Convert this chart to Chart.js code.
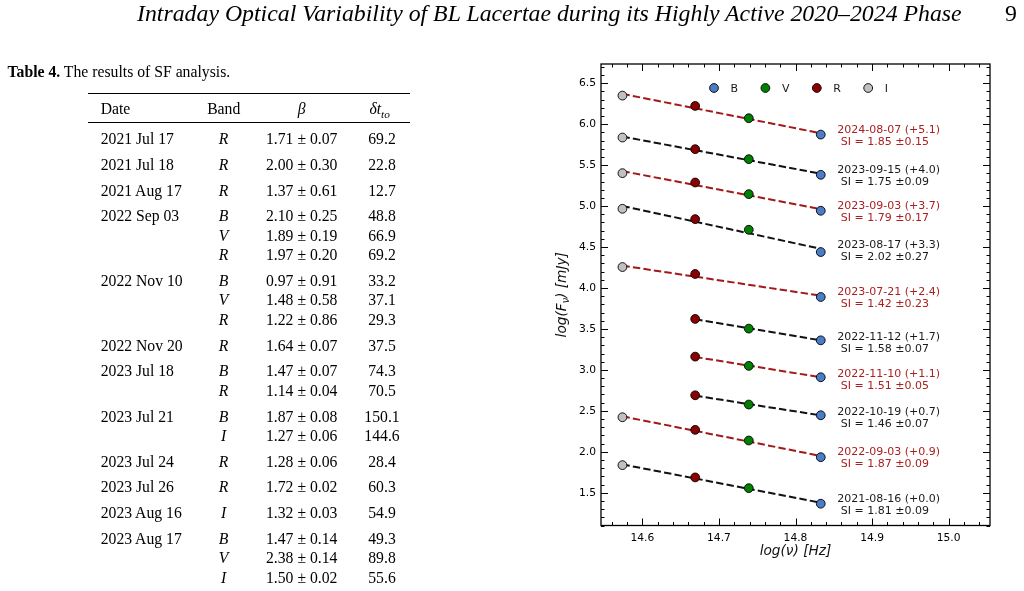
<!DOCTYPE html>
<html><head><meta charset="utf-8">
<script src="https://cdn.jsdelivr.net/npm/chart.js@4.4.1/dist/chart.umd.min.js"></script>
<style>
html,body{margin:0;padding:0;background:#fff;width:1024px;height:591px;overflow:hidden;}
#c{position:absolute;left:0;top:0;}
#page{position:absolute;left:0;top:0;width:1024px;height:591px;pointer-events:none;}
.t{position:absolute;white-space:nowrap;font-family:"Liberation Serif","Times New Roman",serif;color:#000;}
.rule{position:absolute;background:#000;}
</style></head><body>
<canvas id="c" width="1024" height="591"></canvas>
<div id="page"></div>
<script>
// ---------- Data ----------
const pageTitle = 'Intraday Optical Variability of BL Lacertae during its Highly Active 2020–2024 Phase';
const pageNumber = '9';
const captionBold = 'Table 4.';
const captionText = ' The results of SF analysis.';
const tableHeaders = ['Date', 'Band', 'β', 'δt'];
const tableDates = ['2021 Jul 17','2021 Jul 18','2021 Aug 17','2022 Sep 03','','','2022 Nov 10','','','2022 Nov 20','2023 Jul 18','','2023 Jul 21','','2023 Jul 24','2023 Jul 26','2023 Aug 16','2023 Aug 17','',''];
const tableBands = ['R','R','R','B','V','R','B','V','R','R','B','R','B','I','R','R','I','B','V','I'];
const tableBeta = ['1.71 ± 0.07','2.00 ± 0.30','1.37 ± 0.61','2.10 ± 0.25','1.89 ± 0.19','1.97 ± 0.20','0.97 ± 0.91','1.48 ± 0.58','1.22 ± 0.86','1.64 ± 0.07','1.47 ± 0.07','1.14 ± 0.04','1.87 ± 0.08','1.27 ± 0.06','1.28 ± 0.06','1.72 ± 0.02','1.32 ± 0.03','1.47 ± 0.14','2.38 ± 0.14','1.50 ± 0.02'];
const tableDt = ['69.2','22.8','12.7','48.8','66.9','69.2','33.2','37.1','29.3','37.5','74.3','70.5','150.1','144.6','28.4','60.3','54.9','49.3','89.8','55.6'];

const bandNames = ['B', 'V', 'R', 'I'];
const logNu = [14.833, 14.739, 14.669, 14.574];
const epochLabels = ['2024-08-07 (+5.1)','2023-09-15 (+4.0)','2023-09-03 (+3.7)','2023-08-17 (+3.3)','2023-07-21 (+2.4)','2022-11-12 (+1.7)','2022-11-10 (+1.1)','2022-10-19 (+0.7)','2022-09-03 (+0.9)','2021-08-16 (+0.0)'];
const siLabels = ['SI = 1.85 ±0.15','SI = 1.75 ±0.09','SI = 1.79 ±0.17','SI = 2.02 ±0.27','SI = 1.42 ±0.23','SI = 1.58 ±0.07','SI = 1.51 ±0.05','SI = 1.46 ±0.07','SI = 1.87 ±0.09','SI = 1.81 ±0.09'];
const fluxB = [5.873, 5.382, 4.943, 4.439, 3.890, 3.361, 2.910, 2.446, 1.934, 1.366];
const fluxV = [6.073, 5.573, 5.146, 4.711, null, 3.504, 3.049, 2.577, 2.138, 1.556];
const fluxR = [6.223, 5.695, 5.288, 4.841, 4.171, 3.622, 3.162, 2.690, 2.268, 1.687];
const fluxI = [6.349, 5.837, 5.402, 4.967, 4.256, null, null, null, 2.422, 1.837];
const fitStart = [6.370, 5.849, 5.427, 5.002, 4.273, 3.619, 3.158, 2.685, 2.433, 1.846];
const fitEnd = [5.890, 5.396, 4.963, 4.478, 3.906, 3.360, 2.910, 2.445, 1.949, 1.378];
const xTicks = [14.6, 14.7, 14.8, 14.9, 15.0];
const yTicks = [1.5, 2.0, 2.5, 3.0, 3.5, 4.0, 4.5, 5.0, 5.5, 6.0, 6.5];

// ---------- Styles ----------
const bandColors = ['#4a7cc8', '#008000', '#8b0000', '#c0c0c0'];
const redLine = '#a31818', blackLine = '#111111';
const redText = '#ab2020', blackText = '#1a1a1a';

// ---------- HTML text (title + table) ----------
const page = document.getElementById('page');
const mctx = document.createElement('canvas').getContext('2d');
function measure(text, font) { mctx.font = font; return mctx.measureText(text).width; }
function addText(html, x, baseline, fs, opts) {
  opts = opts || {};
  const d = document.createElement('div');
  d.className = 't';
  d.style.fontSize = fs + 'px';
  d.style.lineHeight = fs + 'px';
  d.style.top = (baseline - fs / 2 - 0.3375 * fs) + 'px';
  d.style.left = x + 'px';
  if (opts.align === 'center') d.style.transform = 'translateX(-50%)';
  if (opts.italic) d.style.fontStyle = 'italic';
  if (opts.bold) d.style.fontWeight = 'bold';
  d.innerHTML = html;
  page.appendChild(d);
  return d;
}
function addRule(x1, x2, y, h) {
  const r = document.createElement('div');
  r.className = 'rule';
  r.style.left = x1 + 'px'; r.style.width = (x2 - x1) + 'px';
  r.style.top = (y - h / 2) + 'px'; r.style.height = h + 'px';
  page.appendChild(r);
}
// title
const titleFs = 20 * 826 / measure(pageTitle, 'italic 20px "Liberation Serif"');
addText(pageTitle, 137, 22, titleFs, {italic: true});
addText(pageNumber, 1005, 22, titleFs);
// caption
const capW = measure(captionBold, 'bold 20px "Liberation Serif"') + measure(captionText, '20px "Liberation Serif"');
const capFs = 20 * 223 / capW;
addText('<b>' + captionBold + '</b>' + captionText.replace(/ /g, ' '), 7.5, 77, capFs);
// table
const tfs = 15.7;
addRule(88, 410, 93.5, 1.2);
addRule(88, 410, 122.7, 0.8);
const hb = 109.3 + 0.338 * tfs;
addText(tableHeaders[0], 100.7, hb, tfs);
addText(tableHeaders[1], 223.7, hb, tfs, {align: 'center'});
addText(tableHeaders[2], 301.7, hb, tfs, {align: 'center', italic: true});
addText('<i>' + tableHeaders[3] + '</i><span style="font-size:0.72em;position:relative;top:0.28em;font-style:italic">to</span>', 379.7, hb, tfs, {align: 'center'});
let yc = 139;
for (let i = 0; i < tableDates.length; i++) {
  if (i > 0) yc += tableDates[i] !== '' ? 25.7 : 19.5;
  const b = yc + 0.338 * tfs;
  if (tableDates[i]) addText(tableDates[i], 100.7, b, tfs);
  addText(tableBands[i], 223.5, b, tfs, {align: 'center', italic: true});
  addText(tableBeta[i], 301.7, b, tfs, {align: 'center'});
  addText(tableDt[i], 382, b, tfs, {align: 'center'});
}

// ---------- Chart ----------
Chart.defaults.font.family = '"DejaVu Sans", sans-serif';
const fluxByBand = [fluxB, fluxV, fluxR, fluxI];
const datasets = [];
bandNames.forEach((bn, b) => {
  const pts = [];
  fluxByBand[b].forEach(v => { if (v !== null) pts.push({x: logNu[b], y: v}); });
  datasets.push({
    label: bn, data: pts, showLine: false, order: 0,
    pointRadius: 4.4, pointBorderWidth: 0.9, pointBorderColor: '#000',
    pointBackgroundColor: bandColors[b]
  });
});
epochLabels.forEach((lab, i) => {
  const x0 = fluxI[i] !== null ? logNu[3] : logNu[2];
  datasets.push({
    label: lab, data: [{x: x0, y: fitStart[i]}, {x: logNu[0], y: fitEnd[i]}],
    showLine: true, order: 1, pointRadius: 0, borderWidth: 2,
    borderDash: [7.4, 3.2], borderColor: i % 2 === 0 ? redLine : blackLine, fill: false
  });
});

const decoPlugin = {
  id: 'deco',
  afterDatasetsDraw(chart) {
    const {ctx, chartArea: ca, scales: {x, y}} = chart;
    ctx.save();
    // annotations
    ctx.font = '11px "DejaVu Sans"';
    ctx.textAlign = 'left';
    ctx.textBaseline = 'alphabetic';
    epochLabels.forEach((lab, i) => {
      const px = x.getPixelForValue(logNu[0]) + 16.5;
      const py = y.getPixelForValue(fitEnd[i]);
      ctx.fillStyle = i % 2 === 0 ? redText : blackText;
      ctx.fillText(lab, px, py - 0.5);
      ctx.fillText(' ' + siLabels[i], px, py + 11.5);
    });
    // legend
    bandNames.forEach((bn, b) => {
      const mx = ca.left + 113 + b * 51.4, my = ca.top + 24;
      ctx.beginPath();
      ctx.arc(mx, my, 4.4, 0, Math.PI * 2);
      ctx.fillStyle = bandColors[b];
      ctx.fill();
      ctx.lineWidth = 0.9; ctx.strokeStyle = '#000';
      ctx.stroke();
      ctx.fillStyle = '#1a1a1a';
      ctx.fillText(bn, mx + 16.5, my + 4);
    });
    ctx.restore();
  },
  afterDraw(chart) {
    const {ctx, chartArea: ca, scales: {x, y}} = chart;
    ctx.save();
    ctx.strokeStyle = '#000';
    ctx.lineWidth = 1;
    ctx.beginPath();
    for (let k = Math.ceil(x.min * 50); k <= Math.floor(x.max * 50); k++) {
      const px = Math.round(x.getPixelForValue(k / 50)) + 0.5;
      ctx.moveTo(px, ca.bottom); ctx.lineTo(px, ca.bottom - 3.5);
      ctx.moveTo(px, ca.top); ctx.lineTo(px, ca.top + 3.5);
    }
    for (let k = Math.ceil(y.min * 10); k <= Math.floor(y.max * 10); k++) {
      const py = Math.round(y.getPixelForValue(k / 10)) + 0.5;
      ctx.moveTo(ca.left, py); ctx.lineTo(ca.left + 3.5, py);
      ctx.moveTo(ca.right, py); ctx.lineTo(ca.right - 3.5, py);
    }
    xTicks.forEach(v => {
      const px = Math.round(x.getPixelForValue(v)) + 0.5;
      ctx.moveTo(px, ca.bottom); ctx.lineTo(px, ca.bottom - 7);
      ctx.moveTo(px, ca.top); ctx.lineTo(px, ca.top + 7);
    });
    yTicks.forEach(v => {
      const py = Math.round(y.getPixelForValue(v)) + 0.5;
      ctx.moveTo(ca.left, py); ctx.lineTo(ca.left + 7, py);
      ctx.moveTo(ca.right, py); ctx.lineTo(ca.right - 7, py);
    });
    ctx.stroke();
    ctx.lineWidth = 1.3;
    ctx.strokeRect(ca.left, ca.top, ca.right - ca.left, ca.bottom - ca.top);
    // axis titles
    ctx.fillStyle = '#111';
    ctx.font = 'italic 13.7px "DejaVu Sans"';
    ctx.textAlign = 'center';
    ctx.textBaseline = 'alphabetic';
    ctx.fillText('log(ν) [Hz]', (ca.left + ca.right) / 2, ca.bottom + 29.5);
    // y title with subscript
    const f1 = 'italic 13.7px "DejaVu Sans"', f2 = 'italic 9.6px "DejaVu Sans"';
    const p1 = 'log(F', p2 = 'ν', p3 = ') [mJy]';
    const w1 = measure(p1, f1), w2 = measure(p2, f2), w3 = measure(p3, f1);
    const tot = w1 + w2 + w3;
    ctx.translate(ca.left - 35, (ca.top + ca.bottom) / 2);
    ctx.rotate(-Math.PI / 2);
    ctx.textAlign = 'left';
    let cx = -tot / 2;
    ctx.font = f1; ctx.fillText(p1, cx, 0); cx += w1;
    ctx.font = f2; ctx.fillText(p2, cx, 3); cx += w2;
    ctx.font = f1; ctx.fillText(p3, cx, 0);
    ctx.restore();
  }
};

new Chart(document.getElementById('c'), {
  type: 'scatter',
  data: {datasets},
  options: {
    responsive: false, animation: false, devicePixelRatio: 1, events: [],
    layout: {padding: {left: 0, top: 64, right: 34, bottom: 0}},
    plugins: {legend: {display: false}, tooltip: {enabled: false}},
    scales: {
      x: {
        type: 'linear', position: 'bottom', min: 14.546, max: 15.054,
        grid: {display: false, drawTicks: false}, border: {display: false},
        ticks: {font: {size: 10.7}, color: '#000', padding: 6, maxRotation: 0, autoSkip: false,
          callback: v => v.toFixed(1)},
        afterBuildTicks: s => { s.ticks = xTicks.map(v => ({value: v})); },
        afterFit: s => { s.height = 591 - 525.5; }
      },
      y: {
        type: 'linear', position: 'left', min: 1.10, max: 6.735,
        grid: {display: false, drawTicks: false}, border: {display: false},
        ticks: {font: {size: 10.7}, color: '#000', padding: 5, autoSkip: false,
          callback: v => v.toFixed(1)},
        afterBuildTicks: s => { s.ticks = yTicks.map(v => ({value: v})); },
        afterFit: s => { s.width = 601; }
      }
    }
  },
  plugins: [decoPlugin]
});
</script>
</body></html>
